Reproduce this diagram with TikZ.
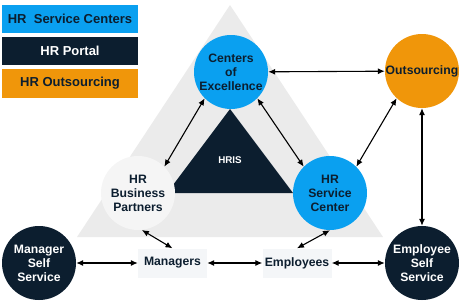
\documentclass[tikz,border=0pt]{standalone}
\usepackage{fontspec}
\setmainfont{Liberation Sans}
\usetikzlibrary{arrows.meta}
\definecolor{hrblue}{HTML}{0AA0F0}
\definecolor{hrnavy}{HTML}{0C1E2F}
\definecolor{hrorange}{HTML}{F0960A}
\definecolor{pyramidgray}{HTML}{EBEBEB}
\definecolor{palefill}{HTML}{F4F6F8}
\begin{document}
\begin{tikzpicture}[x=1pt, y=-1pt, >={Latex[length=7pt,width=6pt]},
  hub/.style={circle, minimum size=74pt, inner sep=0pt, align=center,
    font=\bfseries\fontsize{12.2}{14}\selectfont},
  user/.style={fill=palefill, minimum width=69pt, minimum height=29pt, inner sep=0pt,
    font=\bfseries\fontsize{12.2}{14}\selectfont, text=hrnavy},
  key/.style={minimum width=136pt, minimum height=28.5pt, inner sep=0pt,
    font=\bfseries\fontsize{13}{15}\selectfont},
  link/.style={<->, line width=1.1pt}]
\useasboundingbox (0,0) rectangle (470,306);
% Legend
\node[key, fill=hrblue, text=hrnavy] (keysc) at (70,19.2) {HR\ \ Service Centers};
\node[key, fill=hrnavy, text=white] (keyportal) at (70,51.2) {HR Portal};
\node[key, fill=hrorange, text=hrnavy] (keyout) at (70,83.3) {HR Outsourcing};
% Pyramid and HRIS core
\fill[pyramidgray] (77,237) -- (230,5) -- (383,237) -- cycle;
\fill[hrnavy] (167,193) -- (230,109) -- (293,193) -- cycle;
\node[white, font=\bfseries\fontsize{9.8}{11}\selectfont] (hris) at (230,160) {HRIS};
% Service delivery circles
\node[hub, fill=hrblue, text=hrnavy] (coe) at (231,72) {Centers\\of\\Excellence};
\node[hub, fill=hrorange, text=hrnavy] (outs) at (422,71) {Outsourcing};
\node[hub, fill=gray!8, text=hrnavy] (hrbp) at (138,193) {HR\\Business\\Partners};
\node[hub, fill=hrblue, text=hrnavy] (hrsc) at (330,193) {HR\\Service\\Center};
\node[hub, fill=hrnavy, text=white] (mss) at (39,263) {Manager\\Self\\Service};
\node[hub, fill=hrnavy, text=white] (ess) at (422,263) {Employee\\Self\\Service};
% Users
\node[user] (mgr) at (172.5,263) {Managers};
\node[user] (emp) at (297,263) {Employees};
% Connections
\draw[link] (coe) -- (outs);
\draw[link] (coe.-135) -- (hrbp.45);
\draw[link] (coe.-45) -- (hrsc.135);
\draw[link] (outs.-133) -- (hrsc.45);
\draw[link] (outs.south) -- (ess.north);
\draw[link] (hrbp.-84) -- (mgr.north);
\draw[link] (hrsc.south) -- (emp.north);
\draw[link] (mss) -- (mgr);
\draw[link] (mgr) -- (emp);
\draw[link] (emp) -- (ess);
\end{tikzpicture}
\end{document}
